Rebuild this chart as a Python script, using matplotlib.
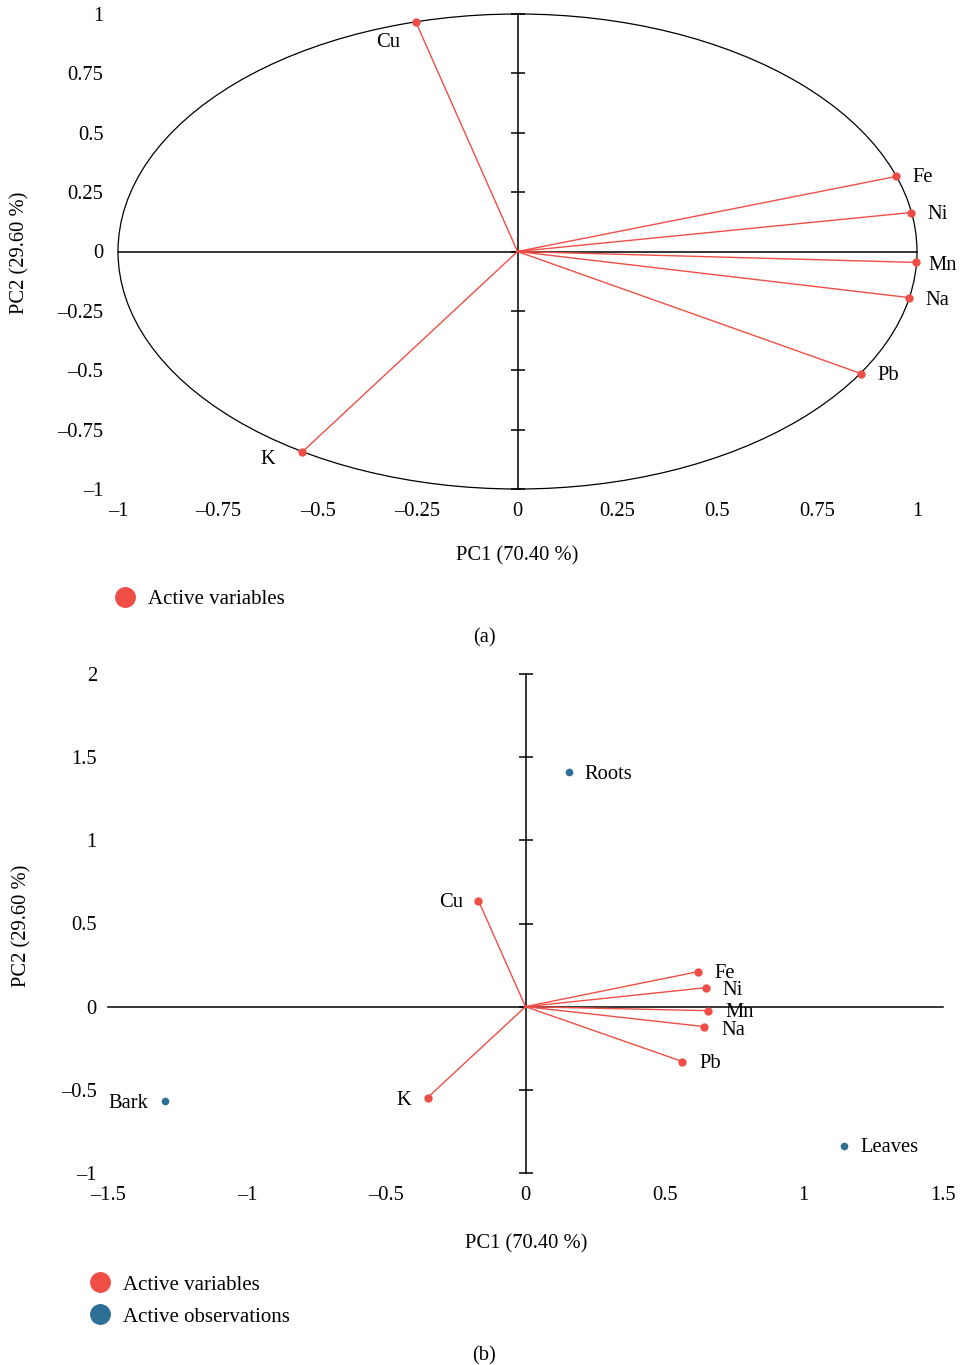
import numpy as np
import matplotlib
matplotlib.use('Agg')
import matplotlib.pyplot as plt
from matplotlib.patches import Circle
from matplotlib.lines import Line2D

plt.rcParams['font.family'] = ['Liberation Serif', 'DejaVu Serif']
plt.rcParams['axes.unicode_minus'] = True

RED = '#ef4e46'
BLUE = '#2e6f95'

## data: (a) correlation circle
var_names = ['Cu', 'Fe', 'Ni', 'Mn', 'Na', 'Pb', 'K']
var_pc1_a = [-0.255, 0.948, 0.985, 0.998, 0.980, 0.860, -0.540]
var_pc2_a = [0.968, 0.316, 0.164, -0.046, -0.194, -0.514, -0.846]

## data: (b) biplot
var_pc1_b = [-0.169, 0.618, 0.647, 0.654, 0.643, 0.564, -0.352]
var_pc2_b = [0.637, 0.210, 0.114, -0.024, -0.120, -0.330, -0.547]
obs_names = ['Roots', 'Bark', 'Leaves']
obs_pc1 = [0.155, -1.297, 1.143]
obs_pc2 = [1.410, -0.565, -0.835]

xticks_a = [-1, -0.75, -0.5, -0.25, 0, 0.25, 0.5, 0.75, 1]
yticks_a = [-1, -0.75, -0.5, -0.25, 0, 0.25, 0.5, 0.75, 1]
xticks_b = [-1.5, -1, -0.5, 0, 0.5, 1, 1.5]
yticks_b = [-1, -0.5, 0, 0.5, 1, 1.5, 2]

# label offsets in points (style only)
off_a = {'Cu': (-11, -15, 'right'), 'Fe': (12, -1, 'left'), 'Ni': (12, -1.5, 'left'),
         'Mn': (9, -2, 'left'), 'Na': (12, -2, 'left'), 'Pb': (12, -1.5, 'left'),
         'K': (-19, -5, 'right')}
off_b = {'Cu': (-11, -1, 'right'), 'Fe': (12, -1.5, 'left'), 'Ni': (12, -2, 'left'),
         'Mn': (13, -1.5, 'left'), 'Na': (12, -3, 'left'), 'Pb': (12, -1.5, 'left'),
         'K': (-12, -2, 'right'), 'Roots': (11.5, -2, 'left'),
         'Bark': (-12, -2, 'right'), 'Leaves': (12, -1.5, 'left')}

W, H = 963, 1365
FS = 14.8


def fmt(v):
    s = ('%g' % v)
    return s.replace('-', '\u2013')


def setup_axes(ax, xticks, yticks, xpad, ypad):
    for sp in ax.spines.values():
        sp.set_visible(False)
    ax.set_xticks(xticks)
    ax.set_yticks(yticks)
    ax.set_xticklabels([fmt(v) for v in xticks])
    ax.set_yticklabels([fmt(v) for v in yticks])
    ax.tick_params(axis='x', length=0, pad=xpad, labelsize=FS)
    ax.tick_params(axis='y', length=0, pad=ypad, labelsize=FS)
    ax.set_xlim(xticks[0], xticks[-1])
    ax.set_ylim(yticks[0], yticks[-1])
    ## coord sys through origin
    ax.plot([xticks[0], xticks[-1]], [0, 0], color='black', lw=1.1, clip_on=False, zorder=2)
    ax.plot([0, 0], [yticks[0], yticks[-1]], color='black', lw=1.1, clip_on=False, zorder=2)
    ax.plot(np.zeros(len(yticks)), yticks, ls='none', marker='_', markersize=10,
            markeredgewidth=1.1, color='black', clip_on=False, zorder=2)


fig = plt.figure(figsize=(W / 100, H / 100), dpi=100)

## panel (a)
ax1 = fig.add_axes([118 / W, 1 - 489 / H, 799 / W, 475 / H])
setup_axes(ax1, xticks_a, yticks_a, 9, 10.5)
ax1.add_patch(Circle((0, 0), 1, fill=False, edgecolor='black', lw=0.9, clip_on=False))
for name, x, y in zip(var_names, var_pc1_a, var_pc2_a):
    ax1.plot([0, x], [0, y], color=RED, lw=1.0, clip_on=False, zorder=3)
    ax1.plot(x, y, 'o', color=RED, markersize=5, clip_on=False, zorder=4)
    dx, dy, ha = off_a[name]
    ax1.annotate(name, (x, y), xytext=(dx, dy), textcoords='offset points',
                 ha=ha, va='center', fontsize=FS)

fig.text(517 / W, 1 - 556 / H, 'PC1 (70.40 %)', ha='center', va='center', fontsize=FS)
fig.text(20 / W, 1 - 253 / H, 'PC2 (29.60 %)', ha='center', va='center',
         rotation=90, fontsize=FS)
fig.legend([Line2D([], [], ls='none', marker='o', color=RED, markersize=14)],
           ['Active variables'], loc='center left',
           bbox_to_anchor=(115 / W, 1 - 599 / H), frameon=False, fontsize=15,
           borderpad=0, borderaxespad=0, handlelength=1, handletextpad=0.6)
fig.text(484 / W, 1 - 638 / H, '(a)', ha='center', va='center', fontsize=FS)

## panel (b)
ax2 = fig.add_axes([108 / W, 1 - 1173 / H, 835 / W, 499 / H])
setup_axes(ax2, xticks_b, yticks_b, 9, 8)
for name, x, y in zip(var_names, var_pc1_b, var_pc2_b):
    ax2.plot([0, x], [0, y], color=RED, lw=1.0, zorder=3)
    ax2.plot(x, y, 'o', color=RED, markersize=5, zorder=4)
    dx, dy, ha = off_b[name]
    ax2.annotate(name, (x, y), xytext=(dx, dy), textcoords='offset points',
                 ha=ha, va='center', fontsize=FS)
for name, x, y in zip(obs_names, obs_pc1, obs_pc2):
    ax2.plot(x, y, 'o', color=BLUE, markersize=4.5, zorder=4)
    dx, dy, ha = off_b[name]
    ax2.annotate(name, (x, y), xytext=(dx, dy), textcoords='offset points',
                 ha=ha, va='center', fontsize=FS)

fig.text(526 / W, 1 - 1244 / H, 'PC1 (70.40 %)', ha='center', va='center', fontsize=FS)
fig.text(22 / W, 1 - 926 / H, 'PC2 (29.60 %)', ha='center', va='center',
         rotation=90, fontsize=FS)
fig.legend([Line2D([], [], ls='none', marker='o', color=RED, markersize=14),
            Line2D([], [], ls='none', marker='o', color=BLUE, markersize=14)],
           ['Active variables', 'Active observations'], loc='upper left',
           bbox_to_anchor=(90 / W, 1 - 1275 / H), frameon=False, fontsize=15,
           borderpad=0, borderaxespad=0, handlelength=1, handletextpad=0.6,
           labelspacing=0.6)
fig.text(484 / W, 1 - 1356 / H, '(b)', ha='center', va='center', fontsize=FS)

fig.savefig('out.png', dpi=100)
